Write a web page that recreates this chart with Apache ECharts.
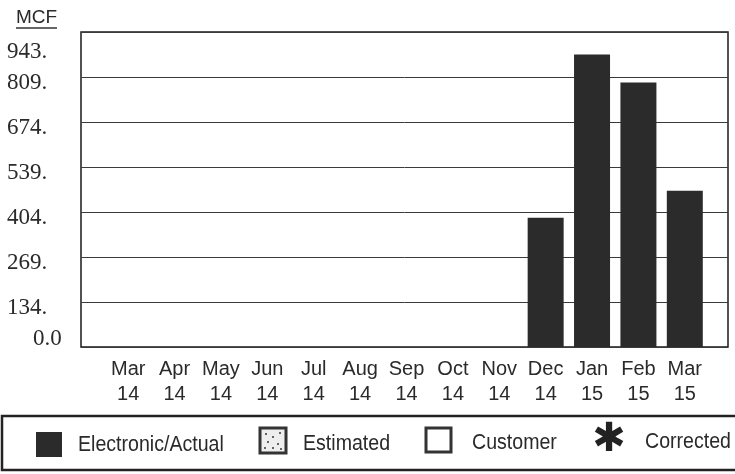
<!DOCTYPE html>
<html>
<head>
<meta charset="utf-8">
<script src="https://cdn.jsdelivr.net/npm/echarts@6/dist/echarts.min.js"></script>
<style>
  html, body { margin: 0; padding: 0; background: #fff; }
  #main { width: 735px; height: 474px; }
</style>
</head>
<body>
<div id="main"></div>
<script>
// data
var months = ['Mar\n14', 'Apr\n14', 'May\n14', 'Jun\n14', 'Jul\n14', 'Aug\n14', 'Sep\n14',
              'Oct\n14', 'Nov\n14', 'Dec\n14', 'Jan\n15', 'Feb\n15', 'Mar\n15'];
var usage = [0, 0, 0, 0, 0, 0, 0, 0, 0, 387, 876, 792, 468];
var tickLabels = ['0.0', '134.', '269.', '404.', '539.', '674.', '809.', '943.'];
var yMax = 943;

var sans = '"Liberation Sans", Arial, sans-serif';
var serif = '"Liberation Serif", "Times New Roman", serif';
var myChart = echarts.init(document.getElementById('main'));

// legend text is a narrow face in the original, squeeze it a bit
function legendText(x, y, txt) {
    return { type: 'text', x: x, y: y, scaleX: 0.89,
             style: { text: txt, fontFamily: sans, fontSize: 22, fill: '#2a2a2a', verticalAlign: 'middle' } };
}

option = {
    backgroundColor: '#ffffff',
    animation: false,
    grid: [
        // frame + horizontal rules
        { left: 81, top: 32, width: 647, height: 315, show: true,
          borderColor: '#1a1a1a', borderWidth: 1.5, backgroundColor: 'transparent' },
        // bars sit in a slightly narrower band
        { left: 105, top: 32, width: 603, height: 315 }
    ],
    xAxis: [
        { gridIndex: 0, type: 'value', show: false, min: 0, max: 1 },
        {
            gridIndex: 1,
            type: 'category',
            data: months,
            axisLine: { show: false },
            axisTick: { show: false },
            axisLabel: {
                margin: 10,
                color: '#2a2a2a',
                fontFamily: sans,
                fontSize: 20,
                lineHeight: 25,
                interval: 0
            }
        }
    ],
    yAxis: [
        {
            gridIndex: 0,
            type: 'value',
            min: 0,
            max: yMax,
            interval: yMax / 7,
            axisLine: { show: false },
            axisTick: { show: false },
            splitLine: { lineStyle: { color: '#3a3a3a', width: 1 } },
            axisLabel: {
                align: 'left',
                margin: 74,
                formatter: function (v) {
                    var i = Math.round(v / (yMax / 7));
                    if (i === 0) return '{bot|' + tickLabels[i] + '}';
                    if (i === 7) return '{top|' + tickLabels[i] + '}';
                    return '{mid|' + tickLabels[i] + '}';
                },
                rich: {
                    mid: { fontFamily: serif, fontSize: 23, color: '#2a2a2a', padding: [12, 0, 0, 0] },
                    top: { fontFamily: serif, fontSize: 23, color: '#2a2a2a', padding: [40, 0, 0, 0] },
                    bot: { fontFamily: serif, fontSize: 23, color: '#2a2a2a', padding: [0, 0, 16, 26] }
                }
            }
        },
        { gridIndex: 1, type: 'value', min: 0, max: yMax, show: false }
    ],
    series: [
        {
            name: 'Electronic/Actual',
            type: 'bar',
            xAxisIndex: 1,
            yAxisIndex: 1,
            data: usage,
            barWidth: 36,
            itemStyle: { color: '#2b2b2b' }
        }
    ],
    graphic: [
        // MCF unit label
        { type: 'text', left: 16, top: 8,
          style: { text: 'MCF', fontFamily: sans, fontSize: 19, fill: '#2a2a2a' } },
        { type: 'line', shape: { x1: 16, y1: 28, x2: 57, y2: 28 }, style: { stroke: '#333', lineWidth: 1.5 } },
        // legend box
        { type: 'rect', shape: { x: 2, y: 416, width: 745, height: 54 },
          style: { fill: 'none', stroke: '#222', lineWidth: 2.5 } },
        { type: 'rect', shape: { x: 36, y: 432, width: 26, height: 25 }, style: { fill: '#2b2b2b' } },
        legendText(78, 445, 'Electronic/Actual'),
        { type: 'rect', shape: { x: 260, y: 428, width: 26, height: 25 },
          style: { fill: '#eee', stroke: '#333', lineWidth: 3 } },
        { type: 'group', children: [
            { type: 'circle', shape: { cx: 266, cy: 434, r: 1 }, style: { fill: '#333' } },
            { type: 'circle', shape: { cx: 273, cy: 437, r: 1 }, style: { fill: '#333' } },
            { type: 'circle', shape: { cx: 280, cy: 433, r: 1 }, style: { fill: '#333' } },
            { type: 'circle', shape: { cx: 268, cy: 442, r: 1 }, style: { fill: '#333' } },
            { type: 'circle', shape: { cx: 278, cy: 444, r: 1 }, style: { fill: '#333' } },
            { type: 'circle', shape: { cx: 265, cy: 448, r: 1 }, style: { fill: '#333' } },
            { type: 'circle', shape: { cx: 273, cy: 448, r: 1 }, style: { fill: '#333' } },
            { type: 'circle', shape: { cx: 281, cy: 449, r: 1 }, style: { fill: '#333' } }
        ] },
        legendText(303, 444, 'Estimated'),
        { type: 'rect', shape: { x: 426, y: 428, width: 25, height: 24 },
          style: { fill: '#fff', stroke: '#333', lineWidth: 3 } },
        legendText(472, 443, 'Customer'),
        { type: 'text', x: 609, y: 441,
          style: { text: '\u2731', fontFamily: '"DejaVu Sans", sans-serif', fontSize: 40, fill: '#222',
                   align: 'center', verticalAlign: 'middle' } },
        legendText(645, 442, 'Corrected')
    ]
};

myChart.setOption(option);
</script>
</body>
</html>
